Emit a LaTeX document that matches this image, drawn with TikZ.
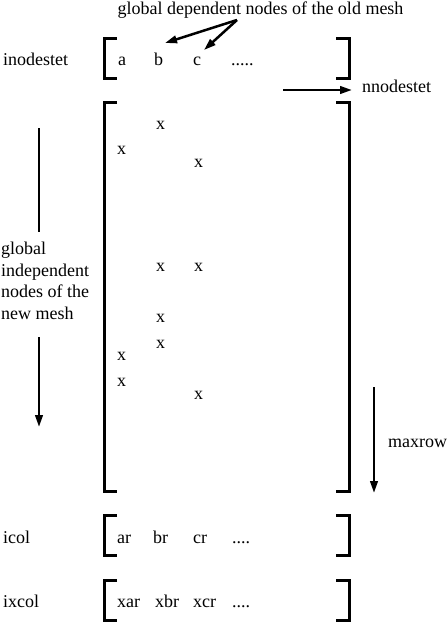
\documentclass[tikz,border=0pt]{standalone}
\usepackage{fontspec}
\setmainfont{Liberation Serif}
\newfontfamily\reffont{Liberation Serif}
\usetikzlibrary{arrows.meta}
\tikzset{
  lbl/.style={inner sep=0pt, anchor=base west, font=\reffont\fontsize{18}{21.5}\selectfont},
  brk/.style={line width=3pt, line join=miter},
  arr/.style={line width=2.5pt, -{Triangle[length=12pt,width=7.5pt]}},
  seg/.style={line width=2.5pt}
}
\begin{document}
\begin{tikzpicture}[x=1pt,y=-1pt]
\useasboundingbox (0,0) rectangle (447,622);
% title
\node[lbl, anchor=base] (title) at (260.5,14) {global dependent nodes of the old mesh};
% row inodestet
\node[lbl] (inod) at (3,65) {inodestet};
\node[lbl] (na) at (118,65) {a};
\node[lbl] (nb) at (154,65) {b};
\node[lbl] (nc) at (193,65) {c};
\node[lbl] (nd) at (231,65) {.....};
\draw[brk] (117,38) -- (104,38) -- (104,78) -- (117,78);
\draw[brk] (336,38) -- (349,38) -- (349,78) -- (336,78);
\coordinate (tsrc) at (237,20);
\coordinate (tb) at (165,43);
\coordinate (tc) at (204,50);
\draw[arr] (tsrc) -- (tb);
\draw[arr] (tsrc) -- (tc);
% nnodestet
\node[lbl] (nnod) at (362,92) {nnodestet};
\coordinate (nnsrc) at (283,90);
\draw[arr] (nnsrc) -- (352,90);
% big matrix
\draw[brk] (117,102) -- (104,102) -- (104,491) -- (117,491);
\draw[brk] (336,102) -- (349,102) -- (349,491) -- (336,491);
\node[lbl] (x1) at (156,129) {x};
\node[lbl] (x2) at (117,154) {x};
\node[lbl] (x3) at (194,167) {x};
\node[lbl] (x4) at (156,271) {x};
\node[lbl] (x5) at (194,271) {x};
\node[lbl] (x6) at (156,322) {x};
\node[lbl] (x7) at (156,348) {x};
\node[lbl] (x8) at (117,360) {x};
\node[lbl] (x9) at (117,386) {x};
\node[lbl] (x10) at (194,399) {x};
% left label and arrow
\node[lbl, anchor=north west, align=left] (gin) at (1,242) {global\\independent\\nodes of the\\new mesh};
\coordinate (la) at (39,128);
\coordinate (lb) at (39,232);
\coordinate (lc) at (39,337);
\coordinate (ld) at (39,427);
\draw[seg] (la) -- (lb);
\draw[arr] (lc) -- (ld);
% maxrow
\node[lbl] (maxr) at (388,447) {maxrow};
\coordinate (ma) at (374,387);
\coordinate (mb) at (374,493);
\draw[arr] (ma) -- (mb);
% icol
\node[lbl] (icol) at (3,543) {icol};
\draw[brk] (117,515) -- (104,515) -- (104,555) -- (117,555);
\draw[brk] (336,515) -- (349,515) -- (349,555) -- (336,555);
\node[lbl] (ar) at (117,543) {ar};
\node[lbl] (br) at (153,543) {br};
\node[lbl] (cr) at (193,543) {cr};
\node[lbl] (dr) at (232,543) {....};
% ixcol
\node[lbl] (ixcol) at (3,607) {ixcol};
\draw[brk] (117,580) -- (104,580) -- (104,620) -- (117,620);
\draw[brk] (336,580) -- (349,580) -- (349,620) -- (336,620);
\node[lbl] (xar) at (117,607) {xar};
\node[lbl] (xbr) at (155,607) {xbr};
\node[lbl] (xcr) at (193,607) {xcr};
\node[lbl] (xdr) at (232,607) {....};
\end{tikzpicture}
\end{document}
